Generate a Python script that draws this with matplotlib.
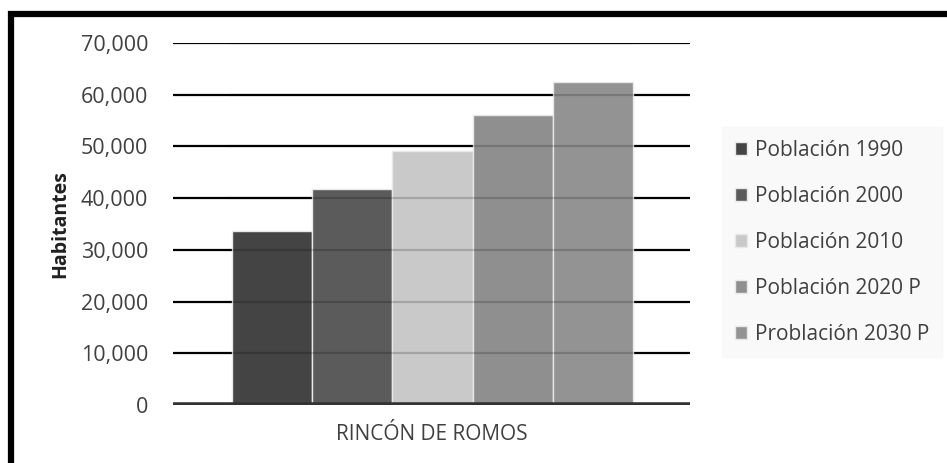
import matplotlib
matplotlib.use("Agg")
import matplotlib.pyplot as plt
import matplotlib.patches as mpatches
from matplotlib.ticker import FuncFormatter

# Datos
series = ["Población 1990", "Población 2000", "Población 2010",
          "Población 2020 P", "Problación 2030 P"]
habitantes = [33700, 41700, 49200, 56000, 62400]
colores = ["#444444", "#5b5b5b", "#c9c9c9", "#8f8f8f", "#939393"]
categoria = "RINCÓN DE ROMOS"
y_ticks = [0, 10000, 20000, 30000, 40000, 50000, 60000, 70000]

plt.rcParams["font.family"] = ["Open Sans", "DejaVu Sans"]

fig = plt.figure(figsize=(9.47, 4.63), dpi=100)
ax = fig.add_axes([0.1827, 0.1253, 0.5459, 0.7818])

# grid lines behind the bars
for t in y_ticks[1:]:
    ax.axhline(t, color="black", lw=1.6, zorder=1)

x = list(range(len(series)))
bars = ax.bar(x, habitantes, width=1.0, color=colores, edgecolor="#e8e8e8",
              linewidth=1.0, zorder=2)

# faint grid showing through the bars
for t in y_ticks[1:]:
    ax.axhline(t, xmin=0.11, xmax=0.89, color="black", lw=1.6, alpha=0.18, zorder=3)

ax.axhline(0, color="#333333", lw=4, zorder=4)

ax.set_xlim(-1.235, 5.21)
ax.set_ylim(0, 70000)
ax.set_yticks(y_ticks)
ax.yaxis.set_major_formatter(FuncFormatter(lambda v, p: f"{int(v):,}"))
ax.tick_params(axis="y", length=0, pad=18, labelsize=15.5, labelcolor="#404040")
ax.set_xticks([])
for s in ax.spines.values():
    s.set_visible(False)

fig.text(60 / 947, 1 - 224 / 463, "Habitantes", rotation=90, ha="center", va="center",
         fontsize=14, fontweight="bold", color="#202020")
fig.text(432 / 947, 1 - 435 / 463, categoria, ha="center", va="center",
         fontsize=15, color="#404040")

leg = fig.legend(handles=list(bars), labels=series, loc="upper left",
                 bbox_to_anchor=(722 / 947, 1 - 127 / 463), borderaxespad=0,
                 fontsize=15, frameon=True, fancybox=False, labelspacing=1.2,
                 handlelength=0.6, handleheight=0.6, handletextpad=0.4,
                 borderpad=0.6, labelcolor="#404040")
leg.get_frame().set_facecolor("#f8f8f8")
leg.get_frame().set_edgecolor("#f8f8f8")

# outer black frame
frame = mpatches.Rectangle((11 / 947, -0.05), 1.2, 1 - 14 / 463 + 0.05,
                           transform=fig.transFigure, fill=False,
                           edgecolor="black", lw=4.5, clip_on=False)
fig.patches.append(frame)

fig.savefig("out.png", dpi=100)
